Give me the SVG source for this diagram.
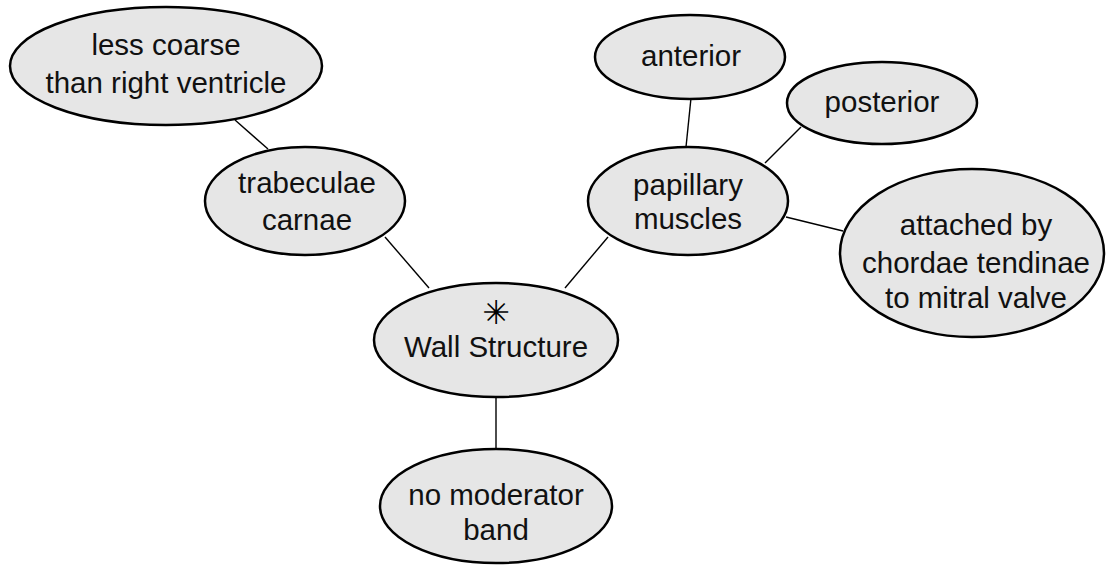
<svg xmlns="http://www.w3.org/2000/svg" width="1112" height="565" viewBox="0 0 1112 565">
<style>
.n ellipse{fill:#e6e6e6;stroke:#000;stroke-width:2.5}
.n text{font-family:"Liberation Sans",Arial,sans-serif;font-size:29.5px;fill:#111;text-anchor:middle}
.c line{stroke:#000;stroke-width:1.4}
</style>
<rect width="1112" height="565" fill="#fff"/>
<g id="connectors" class="c">
<line x1="235" y1="120" x2="268" y2="149"/>
<line x1="385" y1="237" x2="429" y2="288"/>
<line x1="608" y1="237" x2="565" y2="288"/>
<line x1="691" y1="98" x2="686" y2="147"/>
<line x1="801" y1="127" x2="765" y2="163"/>
<line x1="786" y1="217" x2="843" y2="231"/>
<line x1="496" y1="398" x2="496" y2="449"/>
</g>
<g id="node-less-coarse" class="n">
<ellipse cx="166" cy="66" rx="156" ry="59"/>
<text x="166" y="55">less coarse</text>
<text x="166" y="93">than right ventricle</text>
</g>
<g id="node-trabeculae" class="n">
<ellipse cx="305" cy="201" rx="100" ry="54"/>
<text x="307" y="193">trabeculae</text>
<text x="307" y="230">carnae</text>
</g>
<g id="node-wall" class="n">
<ellipse cx="496" cy="340" rx="122" ry="57"/>
<text x="496" y="324" style="font-family:'DejaVu Sans',sans-serif;font-size:33px;fill:#000">✳</text>
<text x="496" y="357">Wall Structure</text>
</g>
<g id="node-papillary" class="n">
<ellipse cx="688" cy="201" rx="100" ry="54"/>
<text x="688" y="195">papillary</text>
<text x="688" y="229">muscles</text>
</g>
<g id="node-anterior" class="n">
<ellipse cx="690" cy="57" rx="95" ry="42"/>
<text x="691" y="66">anterior</text>
</g>
<g id="node-posterior" class="n">
<ellipse cx="882" cy="103" rx="95" ry="41"/>
<text x="882" y="112">posterior</text>
</g>
<g id="node-attached" class="n">
<ellipse cx="972" cy="253" rx="132" ry="84"/>
<text x="976" y="235">attached by</text>
<text x="976" y="273">chordae tendinae</text>
<text x="976" y="308">to mitral valve</text>
</g>
<g id="node-moderator" class="n">
<ellipse cx="496" cy="506" rx="116" ry="57"/>
<text x="496" y="505">no moderator</text>
<text x="496" y="540">band</text>
</g>
</svg>
